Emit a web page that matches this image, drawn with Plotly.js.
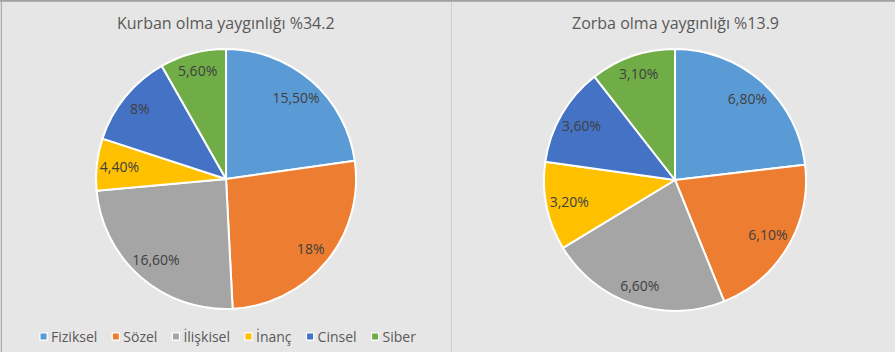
<!DOCTYPE html>
<html>
<head>
<meta charset="utf-8">
<script src="https://cdn.plot.ly/plotly-3.0.1.min.js"></script>
<style>html,body{margin:0;padding:0;background:#e7e6e6;}#chart{width:895px;height:352px;}</style>
</head>
<body>
<div id="chart"></div>
<script>
const categories = ["Fiziksel", "Sözel", "İlişkisel", "İnanç", "Cinsel", "Siber"];
const victimValues = [15.5, 18, 16.6, 4.4, 8, 5.6];
const victimLabels = ["15,50%", "18%", "16,60%", "4,40%", "8%", "5,60%"];
const bullyValues = [6.8, 6.1, 6.6, 3.2, 3.6, 3.1];
const bullyLabels = ["6,80%", "6,10%", "6,60%", "3,20%", "3,60%", "3,10%"];
const titles = ["Kurban olma yaygınlığı %34.2", "Zorba olma yaygınlığı %13.9"];
const colors = ["#5B9BD5", "#ED7D31", "#A5A5A5", "#FFC000", "#4472C4", "#70AD47"];

const font = "Open Sans, Lato, sans-serif";
function pie(values, text, domain, legend) {
  return {
    type: "pie",
    labels: categories,
    values: values,
    text: text,
    texttemplate: "%{text}",
    textinfo: "text",
    textposition: "inside",
    insidetextorientation: "horizontal",
    textfont: {family: font, size: 14, color: "#404040"},
    sort: false,
    direction: "clockwise",
    rotation: 0,
    marker: {colors: colors, line: {color: "#ffffff", width: 2}},
    domain: domain,
    legend: legend,
    hoverinfo: "label+text"
  };
}
const data = [
  pie(victimValues, victimLabels, {x: [0.1073, 0.3978], y: [0.122, 0.861]}, "legend"),
  pie(bullyValues, bullyLabels, {x: [0.6078, 0.9006], y: [0.1165, 0.8608]}, "legend2")
];
const legendBase = {
  orientation: "h", xanchor: "center", yanchor: "middle", y: 0.043,
  font: {family: font, size: 14, color: "#595959"},
  bgcolor: "rgba(0,0,0,0)", itemwidth: 30, tracegroupgap: 0
};
const legendCenters = {legend: 228, legend2: 683};
const layout = {
  width: 895, height: 352,
  margin: {l: 0, r: 0, t: 0, b: 0, autoexpand: false},
  paper_bgcolor: "#e7e6e6",
  plot_bgcolor: "#e7e6e6",
  showlegend: true,
  legend: Object.assign({}, legendBase, {x: 0.2525}),
  legend2: Object.assign({}, legendBase, {x: 0.763}),
  annotations: [
    {text: titles[0], x: 0.2525, y: 0.935, xref: "paper", yref: "paper", xanchor: "center", yanchor: "middle", showarrow: false, font: {family: font, size: 16, color: "#595959"}},
    {text: titles[1], x: 0.7545, y: 0.935, xref: "paper", yref: "paper", xanchor: "center", yanchor: "middle", showarrow: false, font: {family: font, size: 16, color: "#595959"}}
  ],
  shapes: [
    {type: "line", xref: "paper", yref: "paper", x0: 0.5045, x1: 0.5045, y0: 0, y1: 1, line: {color: "#cfcfcf", width: 1}},
    {type: "line", xref: "paper", yref: "paper", x0: 0, x1: 1, y0: 0.998, y1: 0.998, line: {color: "#a0a0a0", width: 2}},
    {type: "line", xref: "paper", yref: "paper", x0: 0.0015, x1: 0.0015, y0: 0, y1: 1, line: {color: "#a0a0a0", width: 1}}
  ]
};
const gd = document.getElementById("chart");
Plotly.newPlot(gd, data, layout, {displayModeBar: false, staticPlot: true}).then(function () {
  // move slice labels outward, Excel "best fit" style (near the outer edge)
  gd.querySelectorAll(".pielayer g.trace").forEach(function (tr) {
    const cd = tr.__data__;
    if (!cd || !cd[0]) return;
    const cd0 = cd[0];
    const r = cd0.r;
    tr.querySelectorAll("g.slice").forEach(function (sl) {
      const pt = sl.__data__;
      if (!pt || !pt.pxmid) return;
      const el = sl.querySelector("g.slicetext text");
      if (!el) return;
      const bb = el.getBBox();
      const ux = pt.pxmid[0] / r, uy = pt.pxmid[1] / r;
      const extent = Math.abs(ux) * bb.width / 2 + Math.abs(uy) * bb.height * 0.4;
      const D = (0.83 * r + (r - 3 - extent)) / 2;
      const nx = cd0.cx + ux * D;
      const ny = cd0.cy + uy * D + 5;
      const t = el.getAttribute("transform");
      if (!t || t.indexOf("translate(") < 0) return;
      el.setAttribute("transform", t.replace(/translate\([^)]*\)/, "translate(" + nx + "," + ny + ")"));
    });
  });
  // compact Excel-like legends
  Object.keys(legendCenters).forEach(function (id) {
    const lg = gd.querySelector("g." + id);
    if (!lg) return;
    const m = /translate\(([-\d.]+),\s*([-\d.]+)\)/.exec(lg.getAttribute("transform") || "");
    const lx = m ? parseFloat(m[1]) : 0;
    const items = Array.from(lg.querySelectorAll("g.traces"));
    const widths = items.map(function (it) {
      const tx = it.querySelector("text.legendtext");
      return tx ? tx.getComputedTextLength() : 40;
    });
    const symW = 11, gap = 15;
    let total = 0;
    widths.forEach(function (w, i) { total += symW + w + (i < widths.length - 1 ? gap : 0); });
    let x = legendCenters[id] - lx - total / 2;
    items.forEach(function (it, i) {
      const tm = /translate\(([-\d.]+),\s*([-\d.]+)\)/.exec(it.getAttribute("transform") || "");
      const y = tm ? parseFloat(tm[2]) : 0;
      it.setAttribute("transform", "translate(" + x + "," + y + ")");
      it.querySelectorAll(".legendpoints path").forEach(function (p) {
        p.setAttribute("transform", "translate(3.5,0) scale(0.6)");
      });
      const tx = it.querySelector("text.legendtext");
      if (tx) { tx.setAttribute("x", symW); tx.querySelectorAll("tspan").forEach(function (s) { s.setAttribute("x", symW); }); }
      const bg = it.querySelector("rect.legendtoggle");
      if (bg) bg.setAttribute("width", symW + widths[i]);
      x += symW + widths[i] + gap;
    });
  });
});
</script>
</body>
</html>
